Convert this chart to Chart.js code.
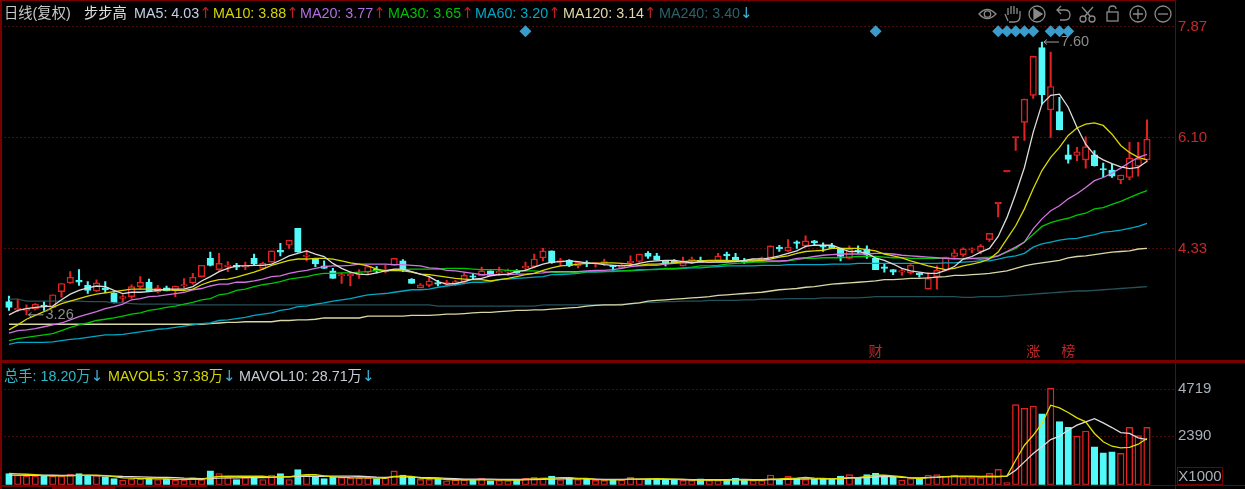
<!DOCTYPE html>
<html>
<head>
<meta charset="utf-8">
<title>步步高 日线</title>
<script src="https://cdn.jsdelivr.net/npm/chart.js@4/dist/chart.umd.min.js"></script>
<style>
html, body { margin: 0; padding: 0; background: #000; width: 1245px; height: 489px; overflow: hidden; }
canvas { position: absolute; left: 0; }
#price-chart { top: 0; }
#volume-chart { top: 363px; }
.rule { position: absolute; background: #7a0000; }
.txt { position: absolute; font: 14.3px "Liberation Sans", "Noto Sans CJK SC", sans-serif; white-space: nowrap; line-height: 16px; }
.up, .dn { font-family: "DejaVu Sans"; font-size: 15px; }
.up { color: #c02020; }
.dn { color: #3fb4dc; }
#x1000 { left: 1177px; top: 467px; width: 44px; height: 16px; border: 1px solid #7a0000; color: #a8b0b8; font-size: 15px; text-align: center; }
svg { position: absolute; left: 0; top: 0; }
</style>
</head>
<body>
<canvas id="price-chart" width="1245" height="360"></canvas>
<canvas id="volume-chart" width="1245" height="126"></canvas>

<div class="rule" style="left:0;top:0;width:1175px;height:1px"></div>
<div class="rule" style="left:0;top:0;width:2px;height:489px"></div>
<div class="rule" style="left:0;top:360px;width:1245px;height:3px"></div>
<div class="rule" style="left:1175px;top:0;width:1px;height:489px"></div>
<div class="rule" style="left:0;top:485px;width:1245px;height:1px"></div>
<div class="rule" style="left:2px;top:486px;width:205px;height:1px"></div>
<div class="rule" style="left:52px;top:486px;width:63px;height:3px"></div>

<div class="txt" style="left:4px;top:5px;color:#c8c8c8">日线(复权)</div>
<div class="txt" style="left:84px;top:5px;color:#e0e0e0">步步高</div>
<div class="txt" style="left:134px;top:5px;color:#c4d0e4">MA5: 4.03<span class="up">↑</span></div>
<div class="txt" style="left:213px;top:5px;color:#d4d400">MA10: 3.88<span class="up">↑</span></div>
<div class="txt" style="left:300px;top:5px;color:#b070e0">MA20: 3.77<span class="up">↑</span></div>
<div class="txt" style="left:388px;top:5px;color:#00c000">MA30: 3.65<span class="up">↑</span></div>
<div class="txt" style="left:475px;top:5px;color:#00a8c8">MA60: 3.20<span class="up">↑</span></div>
<div class="txt" style="left:563px;top:5px;color:#e0d8a8">MA120: 3.14<span class="up">↑</span></div>
<div class="txt" style="left:659px;top:5px;color:#2f6068">MA240: 3.40<span class="dn">↓</span></div>

<div class="txt" style="left:4px;top:368px;color:#30b8c8">总手: 18.20万<span class="dn">↓</span></div>
<div class="txt" style="left:108px;top:368px;color:#d4d400">MAVOL5: 37.38万<span class="dn">↓</span></div>
<div class="txt" style="left:239px;top:368px;color:#c8ccd4">MAVOL10: 28.71万<span class="dn">↓</span></div>

<div class="txt" id="x1000">X1000</div>

<svg width="1245" height="30" fill="none" stroke="#8a8a8a" stroke-width="1.3">
  <path d="M979 14 Q987 5 996 14 Q987 23 979 14 Z"/><circle cx="987.5" cy="14" r="3.2"/>
  <path d="M1008 21 L1005 14 M1008 15 V8 M1011 14 V6 M1014 14 V6 M1017 14 V8 M1020 16 V11 M1020 16 Q1020 22 1014 22 L1009 22"/>
  <circle cx="1037" cy="14" r="8"/><path d="M1034 9 L1042 14 L1034 19 Z" fill="#8a8a8a"/>
  <path d="M1057 10 H1065 Q1070 10 1070 15 Q1070 20 1065 20 H1060 M1061 6 L1057 10 L1061 14"/>
  <circle cx="1083" cy="19" r="3"/><circle cx="1092" cy="19" r="3"/><path d="M1085 16 L1093 7 M1090 16 L1082 7"/>
  <rect x="1107" y="12" width="11" height="9"/><path d="M1109 12 V9 Q1109 6 1112.5 6 Q1116 6 1116 9"/>
  <circle cx="1138" cy="14" r="8"/><path d="M1133 14 H1143 M1138 9 V19"/>
  <circle cx="1163" cy="14" r="8"/><path d="M1158 14 H1168"/>
</svg>

<script>
// ======
// data, one value per trading day
// ======
var priceTicks = [7.87, 6.10, 4.33];
var volumeTicks = [4719, 2390];
var lastSlot = 133.2;

var open = [
3.49,3.36,3.35,3.38,3.42,3.40,3.65,3.79,3.83,3.75,
3.66,3.71,3.63,3.54,3.57,3.73,3.80,3.65,3.71,3.67,
3.74,3.79,3.89,4.18,4.00,4.05,4.07,4.04,4.18,4.02,
4.12,4.31,4.39,4.66,4.21,4.17,4.06,3.98,3.90,3.90,
3.92,3.96,4.01,3.97,4.07,4.14,3.85,3.71,3.75,3.79,
3.77,3.77,3.81,3.90,3.90,3.98,3.95,3.96,3.98,4.03,
4.05,4.19,4.30,4.12,4.15,4.06,4.10,4.09,4.10,4.06,
4.03,4.11,4.13,4.26,4.22,4.13,4.12,4.06,4.14,4.15,
4.12,4.14,4.25,4.20,4.13,4.13,4.14,4.19,4.36,4.30,
4.44,4.38,4.46,4.39,4.38,4.33,4.18,4.30,4.33,4.18,
4.03,4.00,3.96,3.95,3.93,3.69,3.89,3.99,4.21,4.24,
4.31,4.29,4.48,5.05,5.56,6.10,6.35,6.78,7.54,6.55,
6.52,5.83,5.82,5.75,5.83,5.61,5.59,5.43,5.47,5.65,5.75];

var close = [
3.40,3.37,3.38,3.45,3.41,3.60,3.78,3.88,3.80,3.67,
3.79,3.68,3.47,3.57,3.73,3.80,3.65,3.71,3.66,3.74,
3.75,3.88,4.07,4.07,4.10,4.06,4.04,4.06,4.09,4.10,
4.30,4.28,4.47,4.28,4.23,4.09,4.02,3.86,3.92,3.93,
3.93,4.05,3.98,3.98,4.18,3.99,3.78,3.76,3.82,3.77,
3.79,3.81,3.91,3.88,3.98,3.91,3.97,3.97,3.95,4.05,
4.17,4.30,4.11,4.14,4.06,4.12,4.09,4.10,4.13,4.05,
4.07,4.13,4.25,4.21,4.15,4.11,4.11,4.13,4.16,4.12,
4.14,4.22,4.22,4.14,4.12,4.15,4.19,4.38,4.33,4.36,
4.42,4.46,4.43,4.36,4.34,4.21,4.33,4.29,4.23,4.00,
4.02,3.96,3.98,4.07,3.92,3.86,3.99,4.20,4.27,4.33,
4.32,4.38,4.58,5.05,5.56,6.10,6.72,7.40,6.79,6.92,
6.23,5.76,5.88,5.96,5.66,5.59,5.49,5.51,5.78,5.77,6.08];

var high = [
3.58,3.53,3.44,3.46,3.49,3.60,3.78,3.97,4.00,3.81,
3.84,3.81,3.63,3.60,3.76,3.89,3.85,3.75,3.74,3.74,
3.86,3.94,4.07,4.28,4.26,4.13,4.10,4.12,4.25,4.12,
4.30,4.42,4.47,4.66,4.31,4.17,4.14,4.02,3.94,3.97,
4.00,4.05,4.05,4.07,4.18,4.16,3.86,3.78,3.89,3.83,
3.83,3.83,3.95,3.94,4.04,3.98,4.04,4.01,4.00,4.12,
4.25,4.34,4.30,4.18,4.16,4.13,4.14,4.11,4.17,4.07,
4.08,4.22,4.25,4.29,4.26,4.15,4.16,4.20,4.20,4.20,
4.15,4.26,4.28,4.26,4.18,4.16,4.20,4.38,4.39,4.48,
4.46,4.54,4.47,4.43,4.42,4.33,4.38,4.38,4.38,4.18,
4.09,4.00,4.02,4.08,3.95,3.95,4.06,4.20,4.32,4.35,
4.35,4.40,4.58,5.05,5.56,6.10,6.72,7.40,7.63,7.47,
6.75,5.99,5.95,6.12,5.90,5.70,5.68,5.51,6.03,6.03,6.39];

var low = [
3.35,3.33,3.28,3.36,3.35,3.39,3.56,3.78,3.75,3.62,
3.65,3.63,3.47,3.48,3.54,3.70,3.65,3.63,3.66,3.57,
3.71,3.77,3.88,4.06,3.99,3.97,4.00,4.00,4.08,4.00,
4.12,4.22,4.34,4.28,4.14,4.05,4.02,3.86,3.78,3.74,
3.86,3.92,3.95,3.95,4.07,3.97,3.78,3.71,3.73,3.74,
3.75,3.75,3.79,3.85,3.90,3.91,3.91,3.91,3.94,3.98,
4.03,4.14,4.10,4.06,4.05,4.03,4.05,4.04,4.07,3.99,
4.03,4.07,4.12,4.18,4.15,4.06,4.11,4.06,4.10,4.12,
4.11,4.13,4.16,4.13,4.10,4.12,4.13,4.19,4.29,4.29,
4.34,4.36,4.39,4.29,4.34,4.14,4.17,4.26,4.18,4.00,
3.96,3.92,3.91,3.93,3.88,3.69,3.69,3.98,4.20,4.21,
4.27,4.25,4.45,4.84,5.56,5.90,6.06,6.73,6.64,6.11,
6.23,5.70,5.74,5.62,5.65,5.48,5.47,5.37,5.43,5.49,5.72];

var ma5 = [
3.28,3.35,3.38,3.40,3.41,3.42,3.52,3.61,3.67,3.71,
3.74,3.73,3.67,3.62,3.64,3.64,3.65,3.67,3.69,3.69,
3.69,3.73,3.82,3.89,3.97,4.02,4.06,4.06,4.07,4.07,
4.09,4.15,4.22,4.26,4.30,4.25,4.21,4.10,4.02,3.96,
3.93,3.92,3.95,3.98,4.01,4.01,3.97,3.93,3.89,3.81,
3.77,3.78,3.81,3.85,3.86,3.90,3.92,3.93,3.97,3.99,
4.04,4.09,4.12,4.13,4.14,4.13,4.11,4.10,4.08,4.07,
4.06,4.07,4.10,4.13,4.14,4.15,4.15,4.13,4.11,4.13,
4.12,4.12,4.12,4.13,4.15,4.17,4.17,4.19,4.22,4.26,
4.30,4.37,4.39,4.39,4.39,4.34,4.29,4.29,4.26,4.19,
4.15,4.09,4.02,3.98,3.96,3.94,3.94,3.99,4.05,4.17,
4.21,4.28,4.34,4.53,4.83,5.21,5.63,6.19,6.64,6.78,
6.80,6.59,6.27,6.00,5.83,5.75,5.69,5.64,5.61,5.63,5.73];

var ma10 = [
3.04,3.12,3.21,3.27,3.33,3.40,3.46,3.50,3.54,3.58,
3.61,3.63,3.65,3.67,3.69,3.69,3.69,3.68,3.68,3.67,
3.67,3.69,3.76,3.81,3.84,3.85,3.88,3.92,3.96,4.01,
4.07,4.11,4.15,4.17,4.17,4.18,4.18,4.17,4.14,4.11,
4.09,4.06,4.01,3.98,3.99,3.98,3.96,3.93,3.92,3.90,
3.88,3.86,3.85,3.84,3.84,3.82,3.84,3.86,3.89,3.92,
3.94,3.99,4.03,4.06,4.07,4.09,4.10,4.10,4.11,4.11,
4.10,4.09,4.07,4.09,4.09,4.10,4.11,4.13,4.14,4.14,
4.15,4.15,4.15,4.14,4.14,4.14,4.15,4.17,4.20,4.22,
4.26,4.29,4.30,4.31,4.34,4.34,4.34,4.34,4.32,4.30,
4.25,4.22,4.19,4.14,4.10,4.06,4.03,4.00,4.02,4.06,
4.09,4.12,4.17,4.28,4.49,4.70,4.97,5.29,5.58,5.79,
5.95,6.14,6.26,6.32,6.34,6.30,6.16,5.98,5.87,5.79,5.75];

var ma20 = [
2.99,3.03,3.04,3.06,3.09,3.12,3.15,3.20,3.25,3.29,
3.33,3.38,3.41,3.45,3.52,3.54,3.57,3.58,3.60,3.62,
3.64,3.68,3.70,3.74,3.77,3.77,3.80,3.80,3.82,3.85,
3.89,3.90,3.94,3.97,3.99,4.02,4.05,4.06,4.06,4.07,
4.09,4.09,4.09,4.09,4.08,4.08,4.07,4.06,4.03,4.02,
3.99,3.98,3.96,3.94,3.92,3.92,3.92,3.92,3.93,3.93,
3.94,3.95,3.97,3.97,3.97,3.97,3.98,3.99,3.99,4.00,
4.02,4.05,4.06,4.07,4.07,4.09,4.10,4.11,4.11,4.12,
4.12,4.13,4.13,4.14,4.14,4.14,4.14,4.14,4.14,4.15,
4.18,4.19,4.21,4.23,4.24,4.25,4.25,4.25,4.25,4.26,
4.26,4.25,4.23,4.22,4.21,4.20,4.19,4.18,4.18,4.17,
4.18,4.17,4.18,4.22,4.29,4.36,4.44,4.65,4.81,4.94,
5.02,5.13,5.21,5.31,5.42,5.47,5.54,5.62,5.71,5.79,5.84];

var ma30 = [
2.87,2.90,2.92,2.94,2.96,2.98,3.03,3.08,3.12,3.15,
3.19,3.21,3.23,3.26,3.29,3.31,3.35,3.37,3.40,3.42,
3.45,3.48,3.52,3.54,3.60,3.62,3.67,3.69,3.73,3.76,
3.78,3.81,3.85,3.87,3.89,3.92,3.94,3.94,3.95,3.95,
3.96,3.97,3.99,3.99,4.00,4.00,4.01,4.01,4.01,4.01,
4.02,4.02,4.02,4.01,4.00,4.00,4.00,3.99,3.98,3.98,
3.98,3.97,3.96,3.95,3.95,3.96,3.97,3.97,3.97,3.97,
3.98,3.99,4.00,4.00,4.00,4.02,4.02,4.03,4.04,4.06,
4.06,4.07,4.09,4.10,4.11,4.12,4.12,4.13,4.13,4.14,
4.16,4.18,4.18,4.19,4.19,4.19,4.20,4.21,4.21,4.21,
4.20,4.19,4.19,4.18,4.18,4.18,4.18,4.18,4.17,4.18,
4.18,4.19,4.20,4.22,4.28,4.34,4.44,4.56,4.69,4.75,
4.79,4.82,4.87,4.90,4.97,4.99,5.04,5.09,5.15,5.21,5.26];

var ma60 = [
2.81,2.84,2.84,2.84,2.84,2.85,2.87,2.89,2.90,2.92,
2.94,2.96,2.96,2.97,2.99,3.01,3.03,3.05,3.06,3.08,
3.10,3.12,3.14,3.15,3.19,3.20,3.22,3.24,3.27,3.29,
3.31,3.35,3.37,3.41,3.42,3.45,3.47,3.50,3.52,3.54,
3.57,3.60,3.61,3.62,3.64,3.66,3.68,3.68,3.69,3.72,
3.74,3.76,3.78,3.80,3.80,3.81,3.84,3.85,3.86,3.87,
3.88,3.89,3.92,3.92,3.93,3.94,3.96,3.96,3.97,3.98,
3.98,3.98,3.99,4.00,4.01,4.01,4.01,4.02,4.03,4.03,
4.04,4.05,4.06,4.06,4.06,4.06,4.07,4.07,4.07,4.08,
4.08,4.08,4.08,4.08,4.09,4.09,4.09,4.10,4.10,4.10,
4.10,4.10,4.10,4.10,4.10,4.10,4.10,4.11,4.11,4.12,
4.13,4.14,4.14,4.17,4.20,4.22,4.26,4.36,4.41,4.44,
4.47,4.49,4.50,4.53,4.56,4.60,4.61,4.63,4.66,4.69,4.74];

var ma120 = [
3.13,3.13,3.13,3.13,3.13,3.13,3.13,3.13,3.13,3.13,
3.13,3.13,3.13,3.13,3.13,3.13,3.13,3.13,3.13,3.13,
3.13,3.13,3.13,3.14,3.15,3.16,3.16,3.17,3.17,3.17,
3.17,3.19,3.19,3.20,3.20,3.21,3.23,3.23,3.23,3.23,
3.23,3.26,3.26,3.26,3.26,3.26,3.27,3.27,3.27,3.28,
3.29,3.29,3.30,3.31,3.32,3.32,3.33,3.34,3.35,3.35,
3.36,3.36,3.37,3.38,3.39,3.40,3.42,3.43,3.44,3.44,
3.44,3.46,3.47,3.50,3.51,3.52,3.53,3.54,3.55,3.56,
3.57,3.59,3.60,3.61,3.62,3.63,3.64,3.66,3.68,3.69,
3.70,3.72,3.73,3.75,3.77,3.78,3.79,3.80,3.81,3.82,
3.84,3.84,3.85,3.86,3.86,3.87,3.88,3.89,3.91,3.91,
3.92,3.93,3.94,3.96,3.98,4.02,4.06,4.09,4.11,4.13,
4.15,4.19,4.21,4.22,4.24,4.26,4.28,4.29,4.30,4.33,4.34];

var ma240 = [
3.53,3.53,3.50,3.50,3.50,3.50,3.50,3.50,3.50,3.49,
3.49,3.49,3.47,3.47,3.46,3.45,3.45,3.45,3.45,3.45,
3.44,3.44,3.44,3.44,3.44,3.44,3.44,3.44,3.44,3.44,
3.44,3.44,3.44,3.44,3.44,3.44,3.44,3.44,3.44,3.44,
3.44,3.44,3.44,3.44,3.44,3.44,3.44,3.44,3.44,3.42,
3.42,3.42,3.42,3.42,3.42,3.42,3.42,3.42,3.42,3.42,
3.42,3.44,3.44,3.44,3.44,3.44,3.44,3.44,3.44,3.44,
3.45,3.45,3.47,3.48,3.48,3.49,3.49,3.50,3.50,3.50,
3.51,3.51,3.51,3.51,3.52,3.52,3.53,3.53,3.53,3.54,
3.54,3.54,3.54,3.55,3.55,3.55,3.55,3.55,3.56,3.57,
3.57,3.57,3.57,3.57,3.57,3.57,3.57,3.57,3.57,3.56,
3.56,3.57,3.57,3.57,3.58,3.59,3.60,3.61,3.62,3.63,
3.64,3.65,3.66,3.66,3.67,3.68,3.69,3.70,3.71,3.72,3.73];

var volume = [
558,476,443,443,426,426,426,525,558,459,
459,394,312,230,279,295,344,262,279,230,
230,360,262,689,558,360,262,360,360,262,
476,558,262,754,476,426,312,394,360,328,
328,344,312,360,689,476,394,270,270,320,
200,236,236,236,318,200,220,200,220,318,
367,350,433,252,350,270,285,220,220,220,
236,367,285,285,285,285,220,220,220,300,
220,220,220,318,220,220,220,482,285,416,
318,270,285,285,285,433,498,350,498,564,
400,400,236,318,318,482,498,416,482,350,
350,350,564,760,105,3950,3770,3880,3490,4750,
3110,2830,2400,2650,1870,1570,1620,1550,2830,2420,2830];

var mavol5 = [
560,540,520,500,450,440,440,440,460,470,
470,450,400,340,330,310,300,290,290,270,
270,280,260,360,420,430,420,420,420,420,
380,400,390,460,500,500,440,390,370,350,
340,340,340,320,420,430,420,330,300,310,
260,250,250,250,250,240,240,230,230,260,
290,300,330,350,350,320,320,270,240,240,
240,280,280,290,300,290,280,270,240,230,
230,230,230,250,240,230,230,280,290,320,
330,360,330,310,290,320,350,350,410,470,
470,440,400,340,310,350,370,400,420,420,
420,410,410,400,430,1210,1950,2440,3020,3920,
3790,3560,3300,3100,2530,2120,1900,1820,1840,2000,2280];

var mavol10 = [
480,480,470,470,470,470,460,460,460,460,
450,440,430,410,400,390,380,370,360,350,
330,320,300,320,330,340,340,350,350,350,
370,390,390,420,420,420,420,430,430,430,
420,400,380,370,390,390,380,360,350,340,
320,300,280,280,280,280,270,260,260,260,
260,270,280,290,300,290,290,280,270,270,
270,280,280,280,280,270,270,260,250,250,
250,250,250,260,260,250,250,260,260,270,
280,290,290,290,290,310,330,340,360,390,
400,400,370,350,340,360,380,400,400,400,
400,400,410,410,430,720,1130,1540,1870,2230,
2400,2690,2940,3100,3260,3050,2820,2570,2530,2310,2230];

// days with an event diamond over the candles, and the red event characters
var markerDays = [59, 99, 113, 114, 115, 116, 117, 119, 120, 121];
var markerLevel = 7.80;
var eventDays = [99, 117, 121];
var eventTexts = ['财', '涨', '榜'];

// high and low call-outs
var highDay = 118;
var highText = '7.60';
var lowDay = 2;
var lowText = '3.26';

var RED = '#e02222';
var CYAN = '#52fafa';
var GRID = '#b01010';

function points(values) {
    return values.map(function(v, i) { return { x: i, y: v }; });
}
function ranges(a, b) {
    return a.map(function(v, i) { return { x: i, y: [v, b[i]] }; });
}
var isUp = open.map(function(v, i) { return close[i] >= v; });
var edgeColors = isUp.map(function(u) { return u ? RED : CYAN; });
var fillColors = isUp.map(function(u) { return u ? '#000' : CYAN; });
// a candle with no body is just a flat red stroke, so it gets no black middle
var bodyFills = fillColors.map(function(c, i) { return open[i] === close[i] ? RED : c; });

function maLine(label, values, color, order) {
    return {
        type: 'line', label: label, data: points(values), borderColor: color,
        borderWidth: 1.3, pointRadius: 0, tension: 0, order: order
    };
}

// plot area ends at the axis line, labels sit right of it
function rightAxis(min, max, ticks, labelColor, format) {
    return {
        position: 'right', min: min, max: max,
        afterBuildTicks: function(scale) {
            scale.ticks = ticks.map(function(v) { return { value: v }; });
        },
        afterFit: function(scale) {
            scale.width = 70;
            scale.paddingTop = 0;
            scale.paddingBottom = 0;
        },
        grid: { color: GRID, lineWidth: 1, drawTicks: false },
        border: { display: false, dash: [1, 3] },
        ticks: {
            color: labelColor, padding: 3, autoSkip: false,
            font: { family: '"Liberation Sans"', size: 15 },
            callback: format
        }
    };
}
var hiddenX = { type: 'linear', display: false, offset: false, min: -0.5, max: lastSlot };

// call-outs and event characters, placed through the chart's own scales
var calloutPlugin = {
    id: 'callouts',
    afterDatasetsDraw: function(chart) {
        var ctx = chart.ctx, x = chart.scales.x, y = chart.scales.y;
        ctx.save();
        ctx.font = '14.5px "Liberation Sans"';
        ctx.textBaseline = 'middle';
        ctx.textAlign = 'left';

        function callout(day, value, text) {
            var px = x.getPixelForValue(day) + 2, py = y.getPixelForValue(value);
            ctx.strokeStyle = '#a0a0a0';
            ctx.lineWidth = 1;
            ctx.beginPath();
            ctx.moveTo(px + 15, py); ctx.lineTo(px, py);
            ctx.moveTo(px + 3, py - 2.5); ctx.lineTo(px, py); ctx.lineTo(px + 3, py + 2.5);
            ctx.stroke();
            ctx.fillStyle = '#8c8c8c';
            ctx.fillText(text, px + 17, py);
        }
        callout(highDay, high[highDay], highText);
        callout(lowDay, low[lowDay], lowText);

        ctx.font = '14px "Noto Sans CJK SC"';
        ctx.fillStyle = '#c02828';
        ctx.textAlign = 'center';
        eventDays.forEach(function(day, i) {
            ctx.fillText(eventTexts[i], x.getPixelForValue(day), 351);
        });
        ctx.restore();
    }
};

// ======
// price pane
// ======
new Chart(document.getElementById('price-chart'), {
    data: {
        datasets: [
            {
                type: 'line', label: 'markers', showLine: false, order: 0,
                data: markerDays.map(function(d) { return { x: d, y: markerLevel }; }),
                pointStyle: 'rectRot', pointRadius: 6, pointBackgroundColor: '#3a9ccc', pointBorderWidth: 0
            },
            maLine('MA5', ma5, '#dcdcdc', 1),
            maLine('MA10', ma10, '#d8d800', 2),
            maLine('MA20', ma20, '#d074e0', 3),
            maLine('MA30', ma30, '#00c800', 4),
            maLine('MA60', ma60, '#00a8c4', 5),
            maLine('MA120', ma120, '#d8d8a4', 6),
            maLine('MA240', ma240, '#24525a', 7),
            {
                type: 'bar', label: 'body', data: ranges(open, close), order: 8, grouped: false,
                barThickness: 6.5, minBarLength: 1.5, borderWidth: 1.4, borderSkipped: false,
                backgroundColor: bodyFills, borderColor: edgeColors
            },
            {
                type: 'bar', label: 'wick', data: ranges(low, high), order: 9, grouped: false,
                barThickness: 1.4, borderWidth: 0, backgroundColor: edgeColors
            }
        ]
    },
    options: {
        responsive: false, animation: false, maintainAspectRatio: false,
        layout: { autoPadding: false, padding: { left: 4.6, top: 0, right: 0, bottom: 0 } },
        plugins: { legend: { display: false }, tooltip: { enabled: false } },
        scales: {
            x: hiddenX,
            y: rightAxis(2.56, 8.30, priceTicks, '#c42a2a', function(v) { return v.toFixed(2); })
        }
    },
    plugins: [calloutPlugin]
});

// ======
// volume pane
// ======
new Chart(document.getElementById('volume-chart'), {
    data: {
        datasets: [
            maLine('MAVOL10', mavol10, '#dcdcdc', 2),
            maLine('MAVOL5', mavol5, '#e0e000', 1),
            {
                type: 'bar', label: 'volume', data: points(volume), order: 3, grouped: false,
                barThickness: 6.5, borderWidth: 1.4, borderSkipped: false,
                backgroundColor: fillColors, borderColor: edgeColors
            }
        ]
    },
    options: {
        responsive: false, animation: false, maintainAspectRatio: false,
        layout: { autoPadding: false, padding: { left: 4.6, top: 0, right: 0, bottom: 4.2 } },
        plugins: { legend: { display: false }, tooltip: { enabled: false } },
        scales: {
            x: hiddenX,
            y: rightAxis(0, 6000, volumeTicks, '#a8b0b8', function(v) { return String(v); })
        }
    }
});
</script>
</body>
</html>
